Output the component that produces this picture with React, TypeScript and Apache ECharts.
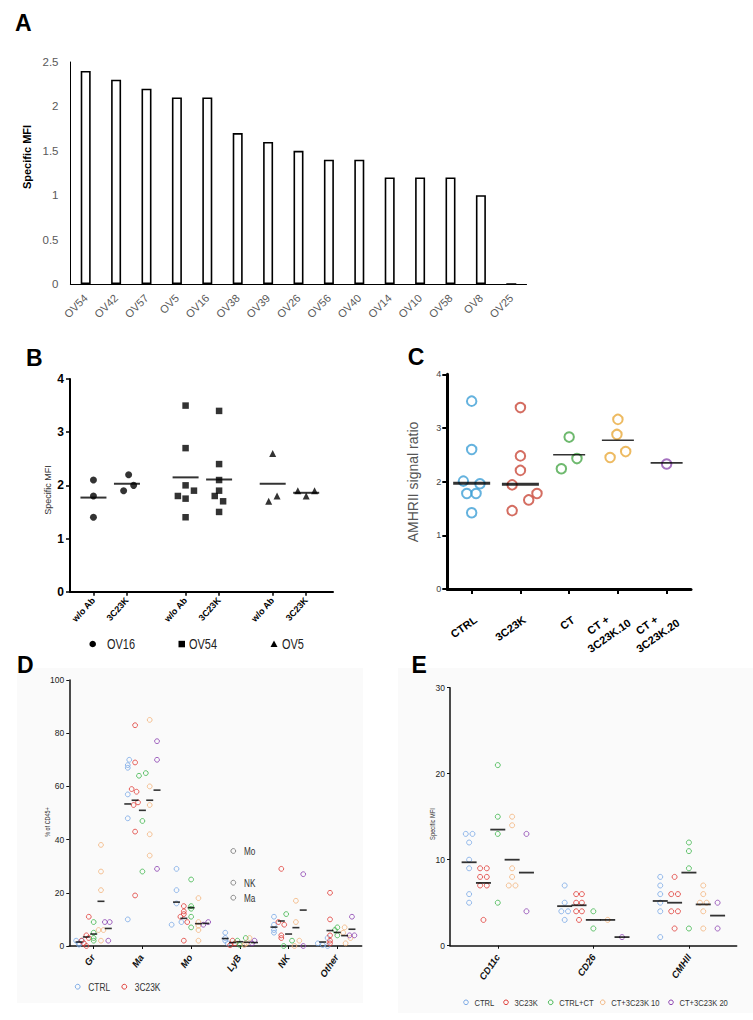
import React, { useEffect, useRef } from "react";
import * as echarts from "echarts";

// ---------- Panel A ----------
const aCategories = ["OV54", "OV42", "OV57", "OV5", "OV16", "OV38", "OV39", "OV26", "OV56", "OV40", "OV14", "OV10", "OV58", "OV8", "OV25"];
const aValues = [2.4, 2.3, 2.2, 2.1, 2.1, 1.7, 1.6, 1.5, 1.4, 1.4, 1.2, 1.2, 1.2, 1.0, 0];

// ---------- Panel B ----------
const bLabels = ["w/o Ab", "3C23K", "w/o Ab", "3C23K", "w/o Ab", "3C23K"];
const bPositions = [1, 2, 3.75, 4.75, 6.35, 7.35];
const bOV16 = [[2.1, 1.8, 1.4], [2.2, 1.9, 2.0]];
const bOV16Jitter = [[0, 0, 0], [0.05, -0.1, 0.2]];
const bOV54 = [[3.5, 2.7, 2.0, 1.8, 1.75, 1.9, 1.4], [3.4, 2.4, 2.1, 1.9, 1.8, 1.7, 1.5]];
const bOV54Jitter = [[0, 0, 0, -0.23, 0, 0.25, 0], [0, 0, 0, 0, -0.13, 0.12, 0]];
const bOV5 = [[2.6, 1.7, 1.8], [1.9, 1.8, 1.9]];
const bOV5Jitter = [[0, -0.12, 0.13], [-0.25, 0, 0.25]];
const bMeans = [1.77, 2.03, 2.15, 2.11, 2.03, 1.86];
const bLegend = ["OV16", "OV54", "OV5"];

// ---------- Panel C ----------
const cCategories = ["CTRL", "3C23K", "CT", "CT +\n3C23K.10", "CT +\n3C23K.20"];
const cValues = [
  [3.5, 2.6, 2.01, 1.96, 1.78, 1.78, 1.42],
  [3.38, 2.48, 2.21, 1.94, 1.78, 1.66, 1.46],
  [2.83, 2.43, 2.24],
  [3.16, 2.88, 2.45, 2.56],
  [2.33],
];
const cJitter = [
  [0, 0, -0.17, 0.17, -0.1, 0.09, 0],
  [0, 0, 0, -0.17, 0.34, 0.17, -0.17],
  [0, 0.16, -0.16],
  [0, -0.02, -0.16, 0.16],
  [0],
];
const cLines = [1.97, 1.95, 2.5, 2.77, 2.35];
const cColors = ["#3d9fd6", "#c9483a", "#4aa84a", "#e8a93a", "#8e4db0"];

// ---------- Panel D ----------
const dCategories = ["Gr", "Ma", "Mo", "LyB", "NK", "Other"];
const groupNames = ["CTRL", "3C23K", "CTRL+CT", "CT+3C23K 10", "CT+3C23K 20"];
const groupColors = ["#78a8e6", "#e03a35", "#3cb54a", "#f2b37a", "#8a3fb0"];
const groupOffsets = [-0.3, -0.15, 0, 0.15, 0.3];

const dCTRL = [[2, 2, 1, 0.5], [70, 68, 67, 57, 48, 10], [29, 21, 16, 8, 9], [5, 3, 2, 1], [11, 8, 6, 5], [3, 1, 0.4, 0]];
const d3C23K = [[11, 4, 3, 2, 1, 0], [83, 69, 59, 58, 54, 53, 43, 19], [15, 13, 12, 11, 9, 2], [2, 1, 0.3], [29, 9, 8, 4, 3], [20, 10, 4, 2, 1]];
const dCTRLCT = [[9, 5, 3, 2], [64, 65, 47, 28], [25, 15, 14, 11, 7], [2, 3, 0.4], [12, 2, 0], [7, 6, 4]];
const dCT10 = [[38, 28, 21, 6, 6, 2], [85, 60, 53, 42, 34], [18, 9, 7.6, 6, 2], [3, 1, 0.4], [17, 9, 2, 0], [7, 5, 3, 1]];
const dCT20 = [[9, 9, 2], [77, 70, 29], [8, 9], [2, 1], [27, 0], [11, 4, 4]];

const dCTRLJ = [[-0.06, 0.06, 0, 0], [0.03, 0, 0, 0, 0, 0], [0, 0, 0, -0.1, 0.1], [0, 0, 0, 0.05], [0, 0, 0, 0], [0.1, -0.1, 0, 0.1]];
const d3C23KJ = [[0.05, 0, 0.05, -0.1, -0.05, 0], [0, 0, -0.07, 0.03, 0.06, -0.03, 0, 0], [0, 0, 0, -0.07, 0.07, 0], [0, 0.05, -0.05], [0, -0.06, 0.06, 0, 0], [0, 0, 0, 0, 0]];
const dCTRLCTJ = [[0, 0, 0, 0], [-0.07, 0.07, 0, 0], [0, 0, 0, 0, 0], [-0.05, 0.12, 0], [-0.05, 0.07, -0.1], [0, -0.05, 0]];
const dCT10J = [[0, 0, 0, -0.05, 0.05, 0], [0, 0, 0, 0, 0], [0, 0, 0, 0, 0], [0.05, -0.02, -0.06], [0, 0, 0.07, -0.03], [0, -0.03, 0.12, 0.02]];
const dCT20J = [[-0.07, 0.03, 0], [0, 0, 0], [-0.05, 0.05], [0, -0.05], [0, 0], [0, -0.05, 0.05]];

const dMeans = [
  [1.5, 53.4, 16.5, 2.8, 7.1, 1.5],
  [3.4, 54.8, 10.4, 1.3, 9.4, 5.8],
  [4.5, 51, 14.4, 1.6, 4.5, 5.1],
  [16.8, 54.8, 8.4, 1.4, 6.9, 3.9],
  [6.6, 58.6, 8.5, 1.3, 13.5, 6.3],
];
const dFloatLabels = ["Mo", "NK", "Ma"];

// ---------- Panel E ----------
const eCategories = ["CD11c", "CD26", "CMHII"];
const eCTRL = [[13, 13, 12, 10, 9, 6, 5], [7, 5, 4, 4, 3], [8, 7, 6, 5, 4, 1]];
const e3C23K = [[9, 9, 8, 8, 7, 7, 3], [6, 6, 5, 5, 4, 4, 3], [8, 6, 6, 4, 4, 2]];
const eCTRLCT = [[21, 15, 13, 5], [4, 2], [12, 11, 9, 2]];
const eCT10 = [[15, 14, 9, 8, 7, 7], [3], [7, 6, 5, 5, 4, 2]];
const eCT20 = [[13, 4], [1], [5, 2]];

const eCTRLJ = [[-0.035, 0.035, 0, 0, 0, 0, 0], [0, 0, -0.035, 0.035, 0], [0, 0, 0, 0, 0, 0]];
const e3C23KJ = [[-0.035, 0.035, -0.035, 0.035, -0.035, 0.035, 0], [-0.03, 0.03, -0.03, 0.03, -0.03, 0.03, 0], [0, -0.035, 0.035, -0.035, 0.035, 0]];
const eCTRLCTJ = [[0, 0, 0, 0], [0, 0], [0, 0, 0, 0]];
const eCT10J = [[0, 0, 0, 0, -0.035, 0.035], [0], [0, 0, -0.035, 0.035, 0, 0]];
const eCT20J = [[0, 0], [0], [0, 0]];

const eMeans = [
  [9.7, 4.6, 5.2],
  [7.3, 4.7, 5.0],
  [13.5, 3.0, 8.5],
  [10, 3.0, 4.8],
  [8.5, 1.0, 3.5],
];

const FONT = "Liberation Sans, Arial, sans-serif";

function groupPoints(values: number[][], jitter: number[][], offset: number) {
  const out: number[][] = [];
  values.forEach((arr, c) =>
    arr.forEach((v, i) => out.push([c + offset + ((jitter[c] && jitter[c][i]) || 0), v]))
  );
  return out;
}

function buildOption() {
  const grids = [
    { left: 70.5, top: 62, width: 456, height: 222 },
    { left: 70, top: 379, width: 263, height: 212.7 },
    { left: 447.3, top: 374.3, width: 243.7, height: 214.7 },
    { left: 69.3, top: 680, width: 292.4, height: 266 },
    { left: 450, top: 687.7, width: 286.7, height: 258 },
  ];

  const dIdx = dCategories.map((_, i) => i);
  const eIdx = eCategories.map((_, i) => i);
  const cIdx = cCategories.map((_, i) => i);

  const valX = (gi: number, min: number, max: number, ticks: number[], lw: number, tl: number, tw: number, col: string) => ({
    type: "value",
    gridIndex: gi,
    min,
    max,
    splitLine: { show: false },
    axisLine: { show: true, onZero: false, lineStyle: { color: col, width: lw } },
    axisTick: { show: true, customValues: ticks, length: tl, lineStyle: { color: col, width: tw } },
    axisLabel: { show: false },
  });

  const xAxis: any[] = [
    {
      type: "category",
      gridIndex: 0,
      data: aCategories,
      axisLine: { lineStyle: { color: "#000", width: 1.2 } },
      axisTick: { show: false },
      axisLabel: { show: false },
    },
    valX(1, 0.3, 8.15, bPositions, 2, 4, 1.5, "#000"),
    valX(2, -0.5, 4.5, cIdx, 3, 5, 2, "#000"),
    valX(3, -0.5, 5.5, dIdx, 1.5, 3, 1, "#111"),
    valX(4, -0.5, 2.5, eIdx, 1.5, 3, 1, "#111"),
  ];

  const yBase = (gi: number, max: number, interval: number, line: any, tick: any, label: any) => ({
    type: "value",
    gridIndex: gi,
    min: 0,
    max,
    interval,
    splitLine: { show: false },
    axisLine: { show: true, onZero: false, lineStyle: line },
    axisTick: tick,
    axisLabel: { fontFamily: FONT, ...label },
  });

  const yAxis: any[] = [
    yBase(0, 2.5, 0.5, { color: "#000", width: 1 }, { show: false }, { color: "#595959", fontSize: 11.5, margin: 12 }),
    yBase(1, 4, 1, { color: "#000", width: 2 }, { show: true, length: 4, lineStyle: { color: "#000", width: 1.5 } }, { color: "#000", fontSize: 12, fontWeight: "bold", margin: 6 }),
    yBase(2, 4, 1, { color: "#000", width: 3 }, { show: true, length: 5, lineStyle: { color: "#000", width: 2 } }, { color: "#444", fontSize: 9, margin: 6 }),
    yBase(3, 100, 20, { color: "#111", width: 1.5 }, { show: true, length: 3, lineStyle: { color: "#111", width: 1 } }, { color: "#222", fontSize: 8.5, margin: 5 }),
    yBase(4, 30, 10, { color: "#111", width: 1.5 }, { show: true, length: 3, lineStyle: { color: "#111", width: 1 } }, { color: "#222", fontSize: 8.5, margin: 5 }),
  ];

  const series: any[] = [];

  series.push({
    type: "bar",
    xAxisIndex: 0,
    yAxisIndex: 0,
    data: aValues,
    barWidth: 10,
    itemStyle: { color: "#fff", borderColor: "#000", borderWidth: 1.6 },
  });

  const bSets = [
    { name: "OV16", vals: bOV16, jit: bOV16Jitter, pos: [0, 1], symbol: "circle", size: 7 },
    { name: "OV54", vals: bOV54, jit: bOV54Jitter, pos: [2, 3], symbol: "rect", size: 6.5 },
    { name: "OV5", vals: bOV5, jit: bOV5Jitter, pos: [4, 5], symbol: "triangle", size: 7 },
  ];
  bSets.forEach((s) => {
    const data: number[][] = [];
    s.vals.forEach((arr, g) => arr.forEach((v, i) => data.push([bPositions[s.pos[g]] + s.jit[g][i], v])));
    series.push({ type: "scatter", name: s.name, xAxisIndex: 1, yAxisIndex: 1, symbol: s.symbol, symbolSize: s.size, itemStyle: { color: "#000" }, data });
  });
  series.push({
    type: "scatter", xAxisIndex: 1, yAxisIndex: 1, symbol: "rect", symbolSize: [26, 2], itemStyle: { color: "#000" }, z: 3,
    data: bMeans.map((m, i) => [bPositions[i], m]),
  });

  cValues.forEach((arr, c) => {
    series.push({
      type: "scatter", xAxisIndex: 2, yAxisIndex: 2, symbol: "circle", symbolSize: 9.5,
      itemStyle: { color: "rgba(0,0,0,0)", borderColor: cColors[c], borderWidth: 2 },
      data: arr.map((v, i) => [c + cJitter[c][i], v]),
    });
  });
  series.push({
    type: "scatter", xAxisIndex: 2, yAxisIndex: 2, symbol: "rect", itemStyle: { color: "#000" }, z: 3,
    data: cLines.map((m, i) => ({ value: [i, m], symbolSize: i < 2 ? [37, 3] : [32, 1.6] })),
  });

  const dSets = [dCTRL, d3C23K, dCTRLCT, dCT10, dCT20];
  const dJits = [dCTRLJ, d3C23KJ, dCTRLCTJ, dCT10J, dCT20J];
  dSets.forEach((vals, g) => {
    series.push({
      type: "scatter", name: groupNames[g], xAxisIndex: 3, yAxisIndex: 3, symbol: "circle", symbolSize: 4.8,
      itemStyle: { color: "rgba(0,0,0,0)", borderColor: groupColors[g], borderWidth: 1 },
      data: groupPoints(vals, dJits[g], groupOffsets[g]),
    });
  });
  const dMeanData: number[][] = [];
  dMeans.forEach((row, g) => row.forEach((m, c) => dMeanData.push([c + groupOffsets[g], m])));
  series.push({ type: "scatter", xAxisIndex: 3, yAxisIndex: 3, symbol: "rect", symbolSize: [7, 1.6], itemStyle: { color: "#000" }, z: 3, data: dMeanData });

  const eSets = [eCTRL, e3C23K, eCTRLCT, eCT10, eCT20];
  const eJits = [eCTRLJ, e3C23KJ, eCTRLCTJ, eCT10J, eCT20J];
  eSets.forEach((vals, g) => {
    series.push({
      type: "scatter", name: groupNames[g], xAxisIndex: 4, yAxisIndex: 4, symbol: "circle", symbolSize: 5,
      itemStyle: { color: "rgba(0,0,0,0)", borderColor: groupColors[g], borderWidth: 1 },
      data: groupPoints(vals, eJits[g], groupOffsets[g]),
    });
  });
  const eMeanData: number[][] = [];
  eMeans.forEach((row, g) => row.forEach((m, c) => eMeanData.push([c + groupOffsets[g], m])));
  series.push({ type: "scatter", xAxisIndex: 4, yAxisIndex: 4, symbol: "rect", symbolSize: [15, 1.8], itemStyle: { color: "#000" }, z: 3, data: eMeanData });

  return { animation: false, grid: grids, xAxis, yAxis, series };
}

const txt = (text: string, x: number, y: number, o: any = {}) => {
  const el: any = {
    type: "text",
    x,
    y,
    style: {
      text,
      fill: o.fill || "#000",
      fontSize: o.fontSize || 12,
      fontFamily: FONT,
      fontWeight: o.fontWeight || "normal",
      align: o.align || "left",
      verticalAlign: o.verticalAlign || "middle",
    },
  };
  if (o.fontStyle) el.style.fontStyle = o.fontStyle;
  if (o.rotation) el.rotation = o.rotation;
  if (o.scaleX) el.scaleX = o.scaleX;
  return el;
};

let measureCtx: CanvasRenderingContext2D | null = null;
function measure(text: string, o: any) {
  if (!measureCtx) {
    const cv = document.createElement("canvas");
    measureCtx = cv.getContext("2d");
  }
  if (measureCtx) {
    measureCtx.font = `${o.fontStyle || "normal"} ${o.fontWeight || "normal"} ${o.fontSize}px ${FONT}`;
    return measureCtx.measureText(text).width;
  }
  return text.length * o.fontSize * 0.6;
}

// rotated label whose end sits at (ex, ey); placed by its centre so it reads well either way
const rotLabel = (text: string, ex: number, ey: number, rotDeg: number, o: any) => {
  const th = (rotDeg * Math.PI) / 180;
  const L = measure(text, o);
  const cx = ex - (L / 2) * Math.cos(th);
  const cy = ey + (L / 2) * Math.sin(th);
  return txt(text, cx, cy, { ...o, rotation: th, align: "center" });
};

function buildGraphics(chart: any) {
  const g: any[] = [];

  const labelSets = [
    { grid: 0, values: aCategories.map((_, i) => i), texts: aCategories, rot: 45, dx: 0, dy: 12, o: { fontSize: 11, fill: "#595959" } },
    { grid: 1, values: bPositions, texts: bLabels, rot: 48, dx: 0, dy: 7, o: { fontSize: 9, fontWeight: "bold" } },
    { grid: 3, values: dCategories.map((_, i) => i), texts: dCategories, rot: 55, dx: -1, dy: 9.5, o: { fontSize: 9.5, fontWeight: "bold", fontStyle: "italic", fill: "#111" } },
    { grid: 4, values: eCategories.map((_, i) => i), texts: eCategories, rot: 55, dx: 0, dy: 9.5, o: { fontSize: 9.5, fontWeight: "bold", fontStyle: "italic", fill: "#111" } },
  ];
  labelSets.forEach((s) => {
    s.values.forEach((v, i) => {
      const p = chart.convertToPixel({ gridIndex: s.grid }, [v, 0]);
      g.push(rotLabel(s.texts[i], p[0] + s.dx, p[1] + s.dy, s.rot, s.o));
    });
  });
  cCategories.forEach((label, i) => {
    const p = chart.convertToPixel({ gridIndex: 2 }, [i, 0]);
    const lines = label.split("\n");
    const o = { fontSize: 11, fontWeight: "bold" };
    if (lines.length === 1) {
      g.push(rotLabel(lines[0], p[0] + 4, p[1] + 29.5, 35, o));
    } else {
      g.push(rotLabel(lines[0], p[0] - 10, p[1] + 29, 35, o));
      g.push(rotLabel(lines[1], p[0] + 11.5, p[1] + 32.5, 35, o));
    }
  });

  const letters: [string, number, number][] = [
    ["A", 15, 23],
    ["B", 26, 357.5],
    ["C", 407.7, 357],
    ["D", 17, 665],
    ["E", 411.5, 665],
  ];
  letters.forEach(([t, x, y]) => g.push(txt(t, x, y, { fontSize: 23, fontWeight: "bold" })));

  g.push(txt("Specific MFI", 27, 157, { rotation: Math.PI / 2, align: "center", fontSize: 11, fontWeight: "bold" }));
  g.push(txt("Specific MFI", 48, 490, { rotation: Math.PI / 2, align: "center", fontSize: 9, fill: "#333" }));
  g.push(txt("AMHRII signal ratio", 413.3, 482, { rotation: Math.PI / 2, align: "center", fontSize: 14, fill: "#555" }));
  g.push(txt("% of CD45+", 47.7, 822, { rotation: Math.PI / 2, align: "center", fontSize: 7, scaleX: 0.78, fill: "#333" }));
  g.push(txt("Specific MFI", 432.7, 824, { rotation: Math.PI / 2, align: "center", fontSize: 7, scaleX: 0.83, fill: "#333" }));

  g.push({ type: "circle", shape: { cx: 92.7, cy: 644, r: 3.3 }, style: { fill: "#000" } });
  g.push(txt(bLegend[0], 107, 644, { fontSize: 15, scaleX: 0.73, fill: "#222" }));
  g.push({ type: "rect", shape: { x: 178.5, y: 640.8, width: 6.5, height: 6.5 }, style: { fill: "#000" } });
  g.push(txt(bLegend[1], 189, 644, { fontSize: 15, scaleX: 0.73, fill: "#222" }));
  g.push({ type: "polygon", shape: { points: [[274, 640.5], [277.5, 647], [270.5, 647]] }, style: { fill: "#000" } });
  g.push(txt(bLegend[2], 282, 644, { fontSize: 15, scaleX: 0.73, fill: "#222" }));

  const dLegX = [77.7, 124.3];
  dLegX.forEach((x, i) => {
    g.push({ type: "circle", shape: { cx: x, cy: 986.7, r: 2.4 }, style: { fill: "none", stroke: groupColors[i], lineWidth: 1 } });
    g.push(txt(groupNames[i], x + 10.5, 986.7, { fontSize: 10.5, scaleX: 0.8, fill: "#333" }));
  });
  const dFloatY = [851, 882.7, 897.7];
  dFloatLabels.forEach((t, i) => {
    g.push({ type: "circle", shape: { cx: 233.3, cy: dFloatY[i], r: 2.4 }, style: { fill: "none", stroke: "#888", lineWidth: 1 } });
    g.push(txt(t, 244, dFloatY[i], { fontSize: 10.5, scaleX: 0.78, fill: "#333" }));
  });

  const eLegX = [466, 506, 550.7, 602.7, 671];
  eLegX.forEach((x, i) => {
    g.push({ type: "circle", shape: { cx: x, cy: 1002.3, r: 2.3 }, style: { fill: "none", stroke: groupColors[i], lineWidth: 1 } });
    g.push(txt(groupNames[i], x + 8.5, 1002.3, { fontSize: 9.5, scaleX: 0.8, fill: "#333" }));
  });
  return g;
}

export default function App() {
  const ref = useRef<HTMLDivElement>(null);
  useEffect(() => {
    if (!ref.current) return;
    const chart = echarts.init(ref.current, null, { renderer: "svg" });
    chart.setOption(buildOption() as any);
    chart.setOption({ graphic: { elements: buildGraphics(chart) } } as any);
    return () => chart.dispose();
  }, []);
  return (
    <div style={{ position: "absolute", left: 0, top: 0, width: 753, height: 1020, background: "#fff" }}>
      <div style={{ position: "absolute", left: 17, top: 668, width: 346, height: 335, background: "#fafafa" }} />
      <div style={{ position: "absolute", left: 398, top: 668, width: 355, height: 345, background: "#fafafa" }} />
      <div ref={ref} style={{ position: "absolute", left: 0, top: 0, width: 753, height: 1020 }} />
    </div>
  );
}
